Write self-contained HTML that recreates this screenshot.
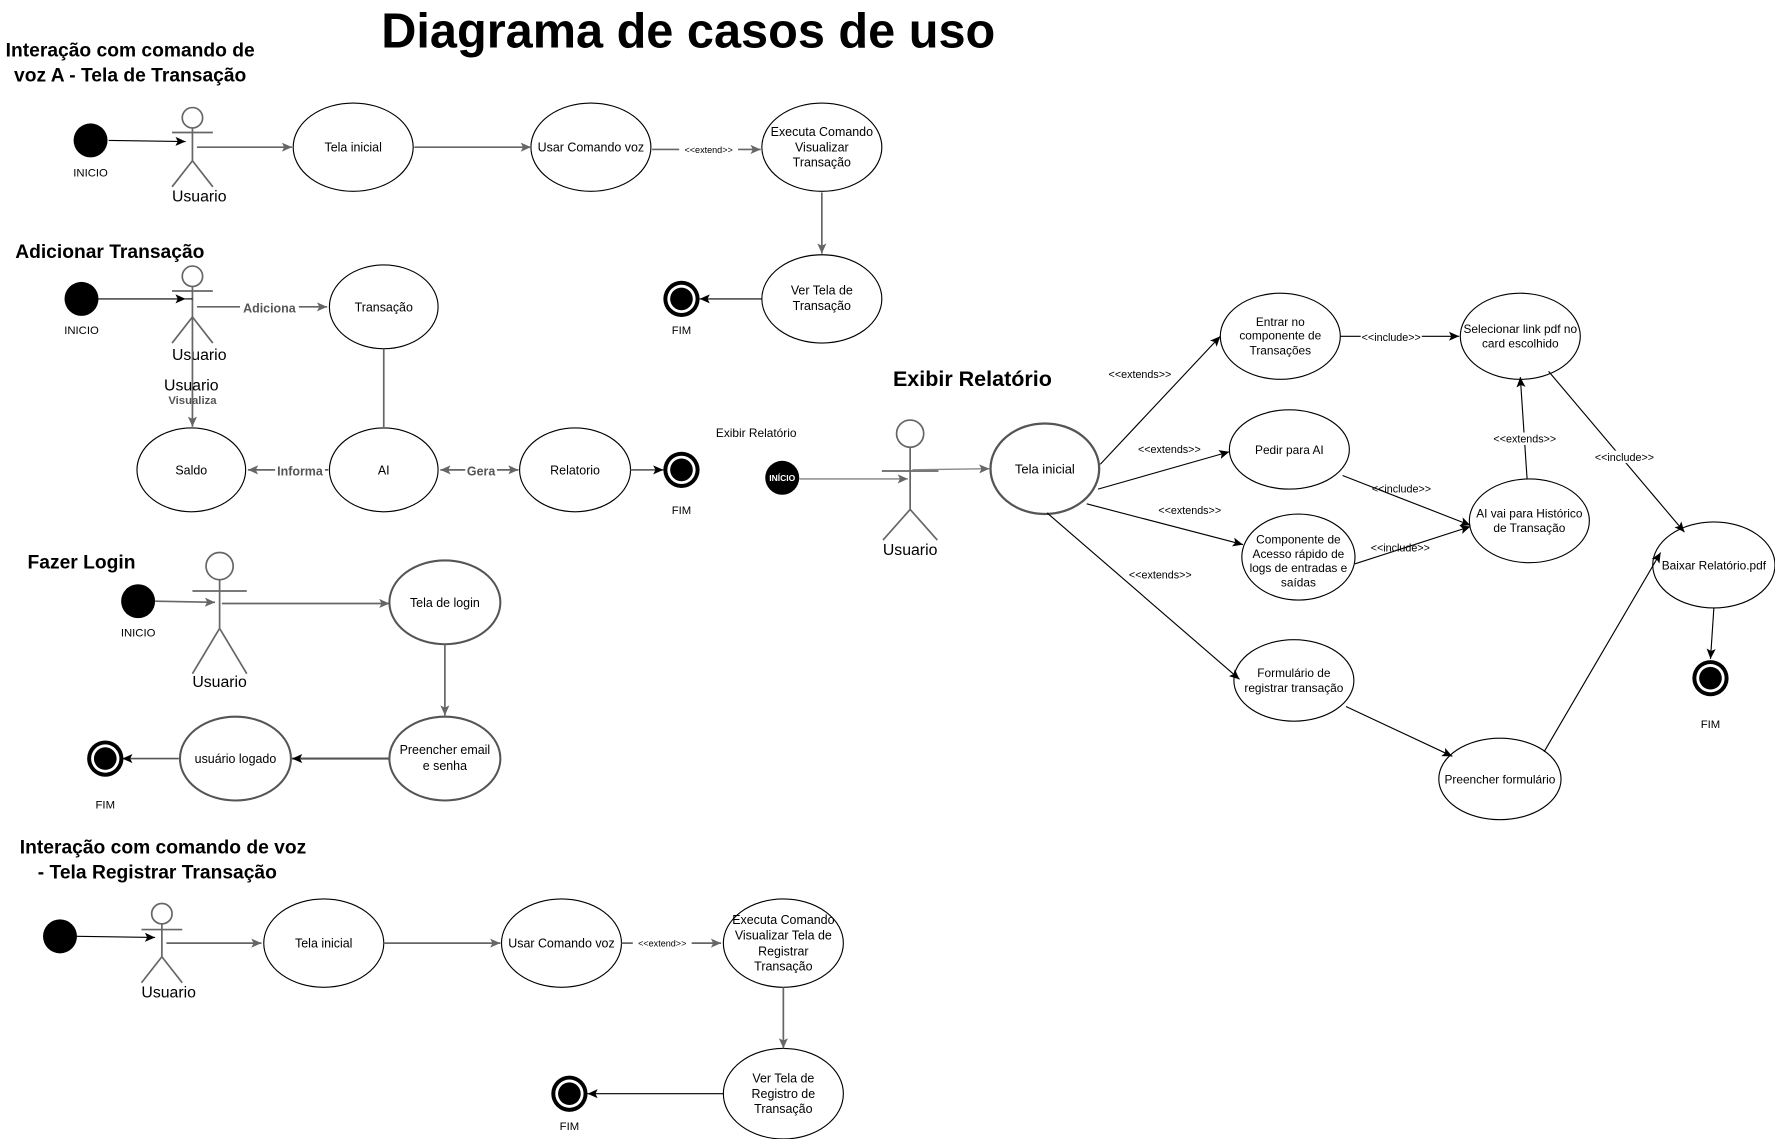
<!DOCTYPE html>
<html><head><meta charset="utf-8"><style>
html,body{margin:0;padding:0;background:#fff;}
svg{display:block;}
text{font-family:"Liberation Sans",sans-serif;}
</style></head><body>
<svg width="1775" height="1139" viewBox="0 0 1568 1006" preserveAspectRatio="none" xmlns="http://www.w3.org/2000/svg">
<defs>
<marker id="a" markerWidth="10" markerHeight="10" refX="9" refY="5" orient="auto" markerUnits="userSpaceOnUse"><path d="M0,1 L9,5 L0,9 L2,5 Z" fill="#000"/></marker>
<marker id="g" markerWidth="10" markerHeight="10" refX="9" refY="5" orient="auto" markerUnits="userSpaceOnUse"><path d="M0,1 L9,5 L0,9 L2,5 Z" fill="#666"/></marker>
<marker id="gs" markerWidth="10" markerHeight="10" refX="1" refY="5" orient="auto" markerUnits="userSpaceOnUse"><path d="M10,1 L1,5 L10,9 L8,5 Z" fill="#666"/></marker>
</defs>
<g font-size="11" text-anchor="middle" fill="#000">
<text x="608" y="42" font-size="43" font-weight="bold">Diagrama de casos de uso</text>

<!-- Section 1 -->
<text x="115" y="50" font-size="17" font-weight="bold">Interação com comando de</text>
<text x="115" y="72" font-size="17" font-weight="bold">voz A - Tela de Transação</text>
<circle cx="80" cy="124" r="15"/>
<text x="80" y="156" font-size="10">INICIO</text>
<g stroke="#666" stroke-width="1.5" fill="none"><circle cx="170" cy="104" r="9"/><line x1="170" y1="113" x2="170" y2="142"/><line x1="152" y1="117" x2="188" y2="117"/><line x1="170" y1="142" x2="152" y2="165"/><line x1="170" y1="142" x2="188" y2="165"/></g>
<text x="176" y="178" font-size="14">Usuario</text>
<line x1="96" y1="124" x2="164" y2="125" stroke="#000" marker-end="url(#a)"/>
<line x1="174" y1="130" x2="258" y2="130" stroke="#666" stroke-width="1.5" marker-end="url(#g)"/>
<g fill="#fff" stroke="#000"><ellipse cx="312" cy="130" rx="53" ry="39"/><ellipse cx="522" cy="130" rx="53" ry="39"/><ellipse cx="726" cy="130" rx="53" ry="39"/><ellipse cx="726" cy="264" rx="53" ry="39"/></g>
<text x="312" y="134">Tela inicial</text>
<line x1="366" y1="130" x2="469" y2="130" stroke="#666" stroke-width="1.5" marker-end="url(#g)"/>
<text x="522" y="134">Usar Comando voz</text>
<line x1="576" y1="132" x2="672" y2="132" stroke="#666" stroke-width="1.5" marker-end="url(#g)"/>
<rect x="600" y="126" width="52" height="11" fill="#fff"/>
<text x="626" y="135" font-size="8">&lt;&lt;extend&gt;&gt;</text>
<text x="726" y="120">Executa Comando</text><text x="726" y="134">Visualizar</text><text x="726" y="147">Transação</text>
<line x1="726" y1="170" x2="726" y2="224" stroke="#666" stroke-width="1.5" marker-end="url(#g)"/>
<text x="726" y="260">Ver Tela de</text><text x="726" y="274">Transação</text>
<line x1="673" y1="264" x2="618" y2="264" stroke="#000" marker-end="url(#a)"/>
<circle cx="602" cy="264" r="16" fill="#000"/><circle cx="602" cy="264" r="12.5" fill="#fff"/><circle cx="602" cy="264" r="10" fill="#000"/>
<text x="602" y="295" font-size="10">FIM</text>

<!-- Section 2 -->
<text x="97" y="228" font-size="17" font-weight="bold">Adicionar Transação</text>
<circle cx="72" cy="264" r="15"/>
<text x="72" y="295" font-size="10">INICIO</text>
<g stroke="#666" stroke-width="1.5" fill="none"><circle cx="170" cy="244" r="9"/><line x1="170" y1="253" x2="170" y2="280"/><line x1="152" y1="257" x2="188" y2="257"/><line x1="170" y1="280" x2="152" y2="303"/><line x1="170" y1="280" x2="188" y2="303"/></g>
<text x="176" y="318" font-size="14">Usuario</text>
<line x1="170" y1="264" x2="164" y2="264" stroke="#000"/>
<line x1="87" y1="264" x2="164" y2="264" stroke="#000" marker-end="url(#a)"/>
<line x1="174" y1="271" x2="289" y2="271" stroke="#666" stroke-width="1.5" marker-end="url(#g)"/>
<rect x="212" y="264" width="52" height="14" fill="#fff"/>
<text x="238" y="276" font-weight="bold" fill="#555">Adiciona</text>
<line x1="170" y1="280" x2="170" y2="377" stroke="#666" stroke-width="1.5" marker-end="url(#g)"/>
<text x="169" y="345" font-size="14">Usuario</text>
<text x="170" y="357" font-size="10" font-weight="bold" fill="#555">Visualiza</text>
<g fill="#fff" stroke="#000"><ellipse cx="339" cy="271" rx="48" ry="37"/><ellipse cx="169" cy="415" rx="48" ry="37"/><ellipse cx="339" cy="415" rx="48" ry="37"/><ellipse cx="508" cy="415" rx="49" ry="37"/></g>
<text x="339" y="275">Transação</text>
<line x1="339" y1="308" x2="339" y2="378" stroke="#666" stroke-width="1.5"/>
<text x="169" y="419">Saldo</text><text x="339" y="419">AI</text><text x="508" y="419">Relatorio</text>
<line x1="290" y1="415" x2="219" y2="415" stroke="#666" stroke-width="1.5" marker-end="url(#g)"/>
<rect x="243" y="408" width="44" height="14" fill="#fff"/>
<text x="265" y="420" font-weight="bold" fill="#555">Informa</text>
<line x1="389" y1="415" x2="458" y2="415" stroke="#666" stroke-width="1.5" marker-start="url(#gs)" marker-end="url(#g)"/>
<rect x="411" y="408" width="28" height="14" fill="#fff"/>
<text x="425" y="420" font-weight="bold" fill="#555">Gera</text>
<line x1="557" y1="415" x2="586" y2="415" stroke="#666" stroke-width="1.5" marker-end="url(#a)"/>
<circle cx="602" cy="415" r="16" fill="#000"/><circle cx="602" cy="415" r="12.5" fill="#fff"/><circle cx="602" cy="415" r="10" fill="#000"/>
<text x="602" y="454" font-size="10">FIM</text>
<text x="668" y="386" font-size="10.5">Exibir Relatório</text>

<!-- Section 3 -->
<text x="72" y="502" font-size="17" font-weight="bold">Fazer Login</text>
<circle cx="122" cy="531" r="15"/>
<text x="122" y="562" font-size="10">INICIO</text>
<g stroke="#666" stroke-width="1.5" fill="none"><circle cx="194" cy="500" r="12"/><line x1="194" y1="512" x2="194" y2="555"/><line x1="170" y1="522" x2="218" y2="522"/><line x1="194" y1="555" x2="170" y2="595"/><line x1="194" y1="555" x2="218" y2="595"/></g>
<text x="194" y="607" font-size="14">Usuario</text>
<line x1="137" y1="531" x2="190" y2="532" stroke="#666" stroke-width="1.5" marker-end="url(#g)"/>
<line x1="196" y1="533" x2="344" y2="533" stroke="#666" stroke-width="1.5" marker-end="url(#g)"/>
<g fill="#fff" stroke="#555" stroke-width="1.8"><ellipse cx="393" cy="532" rx="49" ry="37"/><ellipse cx="393" cy="670" rx="49" ry="37"/><ellipse cx="208" cy="670" rx="49" ry="37"/></g>
<text x="393" y="536">Tela de login</text>
<line x1="393" y1="569" x2="393" y2="632" stroke="#666" stroke-width="1.5" marker-end="url(#g)"/>
<text x="393" y="666">Preencher email</text><text x="393" y="680">e senha</text>
<line x1="344" y1="670" x2="258" y2="670" stroke="#555" stroke-width="1.8" marker-end="url(#a)"/>
<text x="208" y="674">usuário logado</text>
<line x1="158" y1="670" x2="108" y2="670" stroke="#555" stroke-width="1.5" marker-end="url(#a)"/>
<circle cx="93" cy="670" r="16" fill="#000"/><circle cx="93" cy="670" r="12.5" fill="#fff"/><circle cx="93" cy="670" r="10" fill="#000"/>
<text x="93" y="714" font-size="10">FIM</text>

<!-- Section 4 -->
<text x="144" y="754" font-size="17" font-weight="bold">Interação com comando de voz</text>
<text x="139" y="776" font-size="17" font-weight="bold">- Tela Registrar Transação</text>
<circle cx="53" cy="827" r="15"/>
<g stroke="#666" stroke-width="1.5" fill="none"><circle cx="143" cy="807" r="9"/><line x1="143" y1="816" x2="143" y2="845"/><line x1="125" y1="821" x2="161" y2="821"/><line x1="143" y1="845" x2="125" y2="868"/><line x1="143" y1="845" x2="161" y2="868"/></g>
<text x="149" y="881" font-size="14">Usuario</text>
<line x1="68" y1="827" x2="137" y2="828" stroke="#000" marker-end="url(#a)"/>
<line x1="147" y1="833" x2="231" y2="833" stroke="#666" stroke-width="1.5" marker-end="url(#g)"/>
<g fill="#fff" stroke="#000"><ellipse cx="286" cy="833" rx="53" ry="39"/><ellipse cx="496" cy="833" rx="53" ry="39"/><ellipse cx="692" cy="833" rx="53" ry="39"/><ellipse cx="692" cy="966" rx="53" ry="40"/></g>
<text x="286" y="837">Tela inicial</text>
<line x1="339" y1="833" x2="442" y2="833" stroke="#666" stroke-width="1.5" marker-end="url(#g)"/>
<text x="496" y="837">Usar Comando voz</text>
<line x1="549" y1="833" x2="637" y2="833" stroke="#666" stroke-width="1.5" marker-end="url(#g)"/>
<rect x="559" y="827" width="52" height="11" fill="#fff"/>
<text x="585" y="836" font-size="8">&lt;&lt;extend&gt;&gt;</text>
<text x="692" y="816">Executa Comando</text><text x="692" y="830">Visualizar Tela de</text><text x="692" y="844">Registrar</text><text x="692" y="857">Transação</text>
<line x1="692" y1="872" x2="692" y2="926" stroke="#666" stroke-width="1.5" marker-end="url(#g)"/>
<text x="692" y="956">Ver Tela de</text><text x="692" y="970">Registro de</text><text x="692" y="983">Transação</text>
<line x1="639" y1="966" x2="519" y2="966" stroke="#000" marker-end="url(#a)"/>
<circle cx="503" cy="966" r="16" fill="#000"/><circle cx="503" cy="966" r="12.5" fill="#fff"/><circle cx="503" cy="966" r="10" fill="#000"/>
<text x="503" y="998" font-size="10">FIM</text>

<!-- Section 5 -->
<text x="859" y="341" font-size="19" font-weight="bold">Exibir Relatório</text>
<circle cx="691" cy="422" r="15"/>
<text x="691" y="425" font-size="7.5" font-weight="bold" fill="#fff">INÍCIO</text>
<line x1="706" y1="423" x2="802" y2="423" stroke="#666" stroke-width="1" marker-end="url(#g)"/>
<g stroke="#666" stroke-width="1.5" fill="none"><circle cx="804" cy="383" r="12"/><line x1="804" y1="395" x2="804" y2="450"/><line x1="779" y1="416" x2="829" y2="416"/><line x1="804" y1="450" x2="780" y2="477"/><line x1="804" y1="450" x2="828" y2="477"/></g>
<text x="804" y="490" font-size="14">Usuario</text>
<line x1="806" y1="415" x2="874" y2="414" stroke="#888" stroke-width="1.2" marker-end="url(#g)"/>
<g fill="#fff" stroke="#000"><ellipse cx="923" cy="414" rx="48" ry="40" stroke="#555" stroke-width="2"/>
<ellipse cx="1131" cy="297" rx="53" ry="38"/><ellipse cx="1343" cy="297" rx="53" ry="38"/><ellipse cx="1139" cy="397" rx="53" ry="35"/><ellipse cx="1147" cy="492" rx="50" ry="38"/><ellipse cx="1351" cy="460" rx="53" ry="37"/><ellipse cx="1514" cy="499" rx="54" ry="38"/><ellipse cx="1143" cy="601" rx="53" ry="36"/><ellipse cx="1325" cy="688" rx="54" ry="36"/></g>
<g font-size="10.5">
<text x="923" y="418" font-size="11.5">Tela inicial</text>
<text x="1131" y="288">Entrar no</text><text x="1131" y="300">componente de</text><text x="1131" y="313">Transações</text>
<text x="1343" y="294">Selecionar link pdf no</text><text x="1343" y="307">card escolhido</text>
<text x="1139" y="401">Pedir para AI</text>
<text x="1147" y="480">Componente de</text><text x="1147" y="493">Acesso rápido de</text><text x="1147" y="505">logs de entradas e</text><text x="1147" y="518">saídas</text>
<text x="1351" y="457">AI vai para Histórico</text><text x="1351" y="470">de Transação</text>
<text x="1514" y="503">Baixar Relatório.pdf</text>
<text x="1143" y="598">Formulário de</text><text x="1143" y="611">registrar transação</text>
<text x="1325" y="692">Preencher formulário</text>
</g>
<g stroke="#000" stroke-width="1" marker-end="url(#a)">
<line x1="972" y1="410" x2="1078" y2="297"/>
<line x1="970" y1="432" x2="1086" y2="399"/>
<line x1="960" y1="445" x2="1098" y2="481"/>
<line x1="925" y1="453" x2="1095" y2="600"/>
<line x1="1184" y1="297" x2="1289" y2="297"/>
<line x1="1349" y1="423" x2="1343" y2="333"/>
<line x1="1186" y1="420" x2="1299" y2="464"/>
<line x1="1197" y1="498" x2="1299" y2="465"/>
<line x1="1368" y1="328" x2="1488" y2="470"/>
<line x1="1189" y1="624" x2="1283" y2="668"/>
<line x1="1364" y1="664" x2="1467" y2="488"/>
<line x1="1514" y1="537" x2="1511" y2="582"/>
</g>
<g font-size="9.5">
<text x="1007" y="334">&lt;&lt;extends&gt;&gt;</text>
<text x="1033" y="400">&lt;&lt;extends&gt;&gt;</text>
<text x="1051" y="454">&lt;&lt;extends&gt;&gt;</text>
<text x="1025" y="511">&lt;&lt;extends&gt;&gt;</text>
<rect x="1202" y="292" width="54" height="11" fill="#fff"/>
<text x="1229" y="301">&lt;&lt;include&gt;&gt;</text>
<rect x="1318" y="382" width="58" height="11" fill="#fff"/>
<text x="1347" y="391">&lt;&lt;extends&gt;&gt;</text>
<text x="1238" y="435">&lt;&lt;include&gt;&gt;</text>
<text x="1237" y="487">&lt;&lt;include&gt;&gt;</text>
<rect x="1408" y="398" width="54" height="11" fill="#fff"/>
<text x="1435" y="407">&lt;&lt;include&gt;&gt;</text>
</g>
<circle cx="1511" cy="599" r="16" fill="#000"/><circle cx="1511" cy="599" r="12.5" fill="#fff"/><circle cx="1511" cy="599" r="10" fill="#000"/>
<text x="1511" y="643" font-size="10">FIM</text>
</g>
</svg>
</body></html>
